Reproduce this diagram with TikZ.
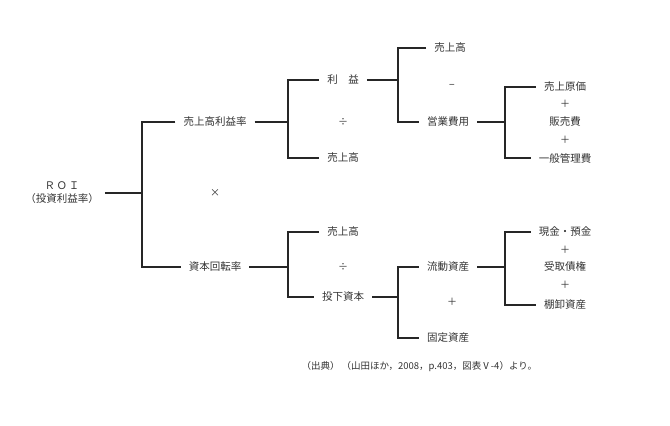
\documentclass[tikz,border=0pt]{standalone}
\usepackage{fontspec}
\setmainfont{Noto Sans CJK JP}
\begin{document}
\begin{tikzpicture}[x=1pt,y=-1pt,
  t/.style={font=\fontsize{10.5}{13}\selectfont,text=black!80,inner xsep=8pt,inner ysep=1pt},
  op/.style={font=\fontsize{10}{12}\selectfont,text=black!80},
  br/.style={line width=1.2pt,black!85}]
\useasboundingbox (0,0) rectangle (670,426);
\node[t,align=center,inner xsep=6pt] (roi) at (62,193) {Ｒ\,Ｏ\,Ｉ\\（投資利益率）};
\node[t] (a1) at (215,122) {売上高利益率};
\node[t] (a2) at (215,267) {資本回転率};
\node[op] (x) at (215,193) {×};
\coordinate (j0) at (142,193);
\draw[br] (roi.east) -- (j0);
\draw[br] (a1.west) -| (j0) |- (a2.west);
% upper
\node[t] (b1) at (343,80) {利\quad 益};
\node[op] (d1) at (343,122) {÷};
\node[t] (b2) at (343,158) {売上高};
\coordinate (j1) at (288,122);
\draw[br] (a1.east) -- (j1);
\draw[br] (b1.west) -| (j1) |- (b2.west);
\node[t] (c1) at (450,48) {売上高};
\node[op] (m1) at (452,86) {−};
\node[t] (c2) at (448,122) {営業費用};
\coordinate (j2) at (398,80);
\draw[br] (b1.east) -- (j2);
\draw[br] (c1.west) -| (j2) |- (c2.west);
\node[t] (e1) at (565,87) {売上原価};
\node[op] (p1) at (565,104) {＋};
\node[t] (e2) at (565,122) {販売費};
\node[op] (p2) at (565,140) {＋};
\node[t] (e3) at (565,158) {一般管理費};
\coordinate (j3) at (505,122);
\draw[br] (c2.east) -- (j3);
\draw[br] (e1.west) -| (j3) |- (e3.west);
% lower
\node[t] (f1) at (343,232) {売上高};
\node[op] (d2) at (343,267) {÷};
\node[t] (f2) at (343,297) {投下資本};
\coordinate (j4) at (288,267);
\draw[br] (a2.east) -- (j4);
\draw[br] (f1.west) -| (j4) |- (f2.west);
\node[t] (g1) at (448,267) {流動資産};
\node[op] (p3) at (452,302) {＋};
\node[t] (g2) at (448,338) {固定資産};
\coordinate (j5) at (398,297);
\draw[br] (f2.east) -- (j5);
\draw[br] (g1.west) -| (j5) |- (g2.west);
\node[t] (h1) at (565,232) {現金・預金};
\node[op] (p4) at (565,250) {＋};
\node[t] (h2) at (565,267) {受取債権};
\node[op] (p5) at (565,285) {＋};
\node[t] (h3) at (565,305) {棚卸資産};
\coordinate (j6) at (505,267);
\draw[br] (g1.east) -- (j6);
\draw[br] (h1.west) -| (j6) |- (h3.west);
\node[font=\fontsize{9.5}{11}\selectfont,text=black!80,anchor=west] (src) at (298,367) {（出典）\ （山田ほか，2008，p.403，図表Ⅴ-4）より。};
\end{tikzpicture}
\end{document}
